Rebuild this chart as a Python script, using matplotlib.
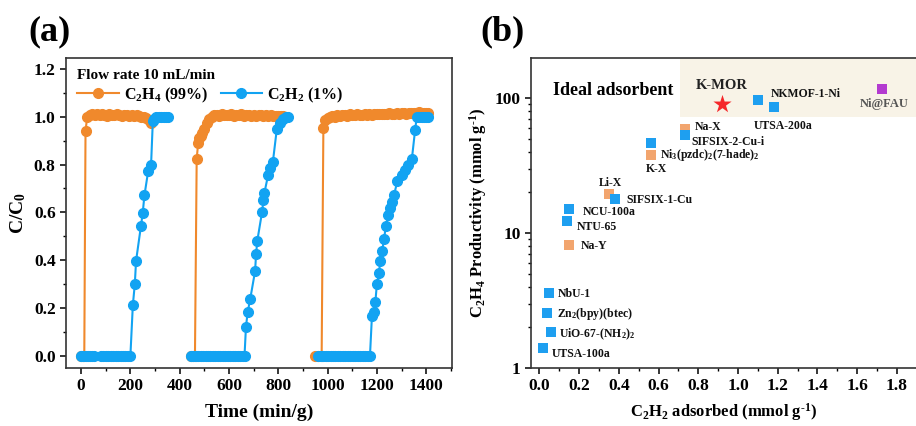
import numpy as np
import matplotlib
matplotlib.use('Agg')
import matplotlib.pyplot as plt
from matplotlib.ticker import MultipleLocator, FuncFormatter, LogLocator, NullFormatter

plt.rcParams['font.family'] = 'Liberation Serif'
plt.rcParams['font.weight'] = 'bold'
plt.rcParams['mathtext.fontset'] = 'custom'
plt.rcParams['mathtext.rm'] = 'Liberation Serif:bold'
plt.rcParams['mathtext.it'] = 'Liberation Serif:bold'
plt.rcParams['mathtext.bf'] = 'Liberation Serif:bold'
plt.rcParams['mathtext.default'] = 'rm'
plt.rcParams['axes.labelweight'] = 'bold'

# ---- panel (a): breakthrough cycles ----
c2h4_x1 = [0, 7, 13, 18, 25, 35, 45, 55, 65, 75, 85, 95, 105, 115, 125, 135, 145, 155, 165, 175,
           185, 195, 205, 215, 225, 235, 245, 255, 265, 275, 282]
c2h4_y1 = [0, 0, 0, 0.94, 1.0, 1.005, 1.01, 1.008, 1.012, 1.005, 1.01, 1.008, 1.004, 1.01, 1.006,
           1.008, 1.01, 1.005, 1.003, 1.008, 1.006, 1.004, 1.007, 1.003, 1.005, 1.002, 1.0, 1.0,
           0.995, 0.985, 0.975]
c2h4_x2 = [445, 454, 462, 469, 475, 480, 486, 491, 500, 510, 520, 530, 540, 550, 560, 570, 580, 590,
           600, 610, 620, 630, 640, 650, 660, 670, 680, 690, 700, 710, 720, 730, 740, 750, 760,
           770, 780, 790, 800, 810, 820, 830]
c2h4_y2 = [0, 0, 0, 0.823, 0.89, 0.91, 0.92, 0.93, 0.95, 0.975, 0.99, 1.0, 1.005, 1.008, 1.004,
           1.01, 1.006, 1.008, 1.005, 1.01, 1.003, 1.007, 1.005, 1.009, 1.004, 1.006, 1.008, 1.003,
           1.006, 1.004, 1.007, 1.005, 1.003, 1.006, 1.004, 1.005, 1.003, 1.004, 1.002, 1.003,
           1.002, 1.0]
c2h4_x3 = [949, 962, 976, 983, 990, 1000, 1010, 1020, 1030, 1040, 1050, 1060, 1070, 1080, 1090,
           1100, 1110, 1120, 1130, 1140, 1150, 1160, 1170, 1180, 1190, 1200, 1210, 1220, 1230,
           1240, 1250, 1260, 1270, 1280, 1290, 1300, 1310, 1320, 1330, 1340, 1350, 1360, 1370,
           1380, 1390, 1400, 1408]
c2h4_y3 = [0, 0, 0, 0.953, 0.985, 0.995, 1.0, 1.004, 1.0, 1.006, 1.003, 1.008, 1.005, 1.004, 1.009,
           1.006, 1.005, 1.01, 1.007, 1.006, 1.011, 1.008, 1.01, 1.007, 1.012, 1.009, 1.01, 1.013,
           1.01, 1.012, 1.014, 1.011, 1.013, 1.015, 1.012, 1.014, 1.016, 1.013, 1.015, 1.017,
           1.014, 1.016, 1.018, 1.015, 1.017, 1.016, 1.015]

c2h2_x1 = [0, 9, 18, 27, 36, 45, 54, 80, 90, 100, 110, 120, 130, 140, 150, 160, 170, 180, 190,
           200, 210, 218, 223, 243, 250, 257, 272, 284, 291, 297, 305, 315, 325, 335, 345, 353]
c2h2_y1 = [0, 0, 0, 0, 0, 0, 0, 0, 0, 0, 0, 0, 0, 0, 0, 0, 0, 0, 0,
           0, 0.213, 0.30, 0.397, 0.544, 0.597, 0.671, 0.771, 0.80, 0.98, 0.99, 1.0, 1.0, 1.0,
           1.0, 1.0, 1.0]
c2h2_x2 = [446, 455, 465, 475, 485, 495, 505, 515, 525, 535, 545, 555, 565, 575, 585, 595, 605,
           615, 625, 635, 645, 655, 663, 669, 676, 686, 706, 710, 715, 734, 740, 744, 759, 767,
           778, 794, 805, 818, 830, 838]
c2h2_y2 = [0, 0, 0, 0, 0, 0, 0, 0, 0, 0, 0, 0, 0, 0, 0, 0, 0,
           0, 0, 0, 0, 0, 0, 0.123, 0.184, 0.237, 0.355, 0.427, 0.482, 0.60, 0.652, 0.683, 0.757,
           0.785, 0.81, 0.947, 0.975, 0.99, 1.0, 1.0]
c2h2_x3 = [963, 972, 982, 992, 1002, 1012, 1022, 1032, 1042, 1052, 1062, 1072, 1082, 1092, 1102,
           1112, 1122, 1132, 1142, 1152, 1162, 1172, 1180, 1189, 1194, 1200, 1209, 1213, 1222,
           1229, 1237, 1247, 1254, 1262, 1270, 1283, 1301, 1314, 1328, 1342, 1355, 1362, 1372,
           1382, 1392, 1400, 1408]
c2h2_y3 = [0, 0, 0, 0, 0, 0, 0, 0, 0, 0, 0, 0, 0, 0, 0,
           0, 0, 0, 0, 0, 0, 0, 0.167, 0.185, 0.227, 0.30, 0.346, 0.396, 0.44,
           0.49, 0.544, 0.59, 0.618, 0.645, 0.674, 0.73, 0.757, 0.778, 0.80, 0.823, 0.943, 1.0,
           1.0, 1.0, 1.0, 1.0, 1.0]

# ---- panel (b): productivity vs uptake ----
names = ['K-MOR', 'NKMOF-1-Ni', 'UTSA-200a', 'Ni@FAU', 'Na-X', 'SIFSIX-2-Cu-i',
         'Ni$_3$(pzdc)$_2$(7-hade)$_2$', 'K-X', 'Li-X', 'SIFSIX-1-Cu', 'NCU-100a', 'NTU-65',
         'Na-Y', 'NbU-1', 'Zn$_2$(bpy)(btec)', 'UiO-67-(NH$_2$)$_2$', 'UTSA-100a']
c2h2_uptake = [0.918, 1.103, 1.18, 1.724, 0.732, 0.732, 0.561, 0.561, 0.351, 0.381, 0.150,
               0.139, 0.150, 0.050, 0.039, 0.059, 0.020]
c2h4_prod = [89.8, 96.6, 86.2, 116.6, 58.9, 53.2, 46.7, 37.8, 19.4, 17.8, 14.96, 12.3, 8.15,
             3.57, 2.57, 1.86, 1.40]
kinds = ['star', 'mof', 'mof', 'nifau', 'zeo', 'mof', 'mof', 'zeo', 'zeo', 'mof', 'mof', 'mof',
         'zeo', 'mof', 'mof', 'mof', 'mof']
label_x = [0.918, 1.165, 1.078, 1.735, 0.784, 0.767, 0.605, 0.536, 0.30, 0.437, 0.218, 0.188,
           0.21, 0.091, 0.091, 0.10, 0.062]
label_y = [124.8, 106.5, 62.0, 89.8, 61.3, 47.0, 38.0, 29.8, 23.6, 17.5, 14.3, 11.1, 8.02,
           3.53, 2.5, 1.78, 1.27]

orange = '#F0892C'
blue = '#12A3F2'

fig = plt.figure(figsize=(9.16, 4.26), dpi=100)
ax1 = fig.add_axes([0.0721, 0.1362, 0.4214, 0.7277])
ax2 = fig.add_axes([0.5797, 0.1362, 0.4214, 0.7277])

def joined(xs, ys):
    X, Y = [], []
    for x, y in zip(xs, ys):
        X += list(x) + [np.nan]
        Y += list(y) + [np.nan]
    return X, Y

ox, oy = joined([c2h4_x1, c2h4_x2, c2h4_x3], [c2h4_y1, c2h4_y2, c2h4_y3])
bx, by = joined([c2h2_x1, c2h2_x2, c2h2_x3], [c2h2_y1, c2h2_y2, c2h2_y3])
ax1.plot(ox, oy, '-o', color=orange, ms=7, lw=1.5, label='C$_2$H$_4$ (99%)')
ax1.plot(bx, by, '-o', color=blue, ms=7, lw=1.5, label='C$_2$H$_2$ (1%)')

ax1.set_xlim(-61, 1505)
ax1.set_ylim(-0.05, 1.245)
ax1.xaxis.set_major_locator(MultipleLocator(200))
ax1.xaxis.set_minor_locator(MultipleLocator(100))
ax1.yaxis.set_major_locator(MultipleLocator(0.2))
ax1.yaxis.set_minor_locator(MultipleLocator(0.1))
ax1.yaxis.set_major_formatter(FuncFormatter(lambda v, p: f'{v:.1f}'))
ax1.set_xlabel('Time (min/g)', fontsize=14, labelpad=7)
ax1.set_ylabel('C/C$_0$', fontsize=14, labelpad=4)
leg = ax1.legend(loc='upper left', ncol=2, frameon=False, fontsize=11.5,
                 title='Flow rate 10 mL/min', title_fontproperties={'weight': 'bold', 'size': 11},
                 alignment='left', handlelength=2.6, columnspacing=0.8, handletextpad=0.3,
                 borderaxespad=0.3, labelspacing=0.2)
fig.text(50 / 916, 1 - 32 / 426, '(a)', fontsize=26, fontweight='bold', ha='center', va='center')

# panel (b)
ax2.set_yscale('log')
ax2.set_xlim(-0.042, 1.901)
ax2.set_ylim(1, 198)
ax2.fill_between([0.708, 1.901], 72, 198, color='#F8F3E7', zorder=0, lw=0)
colors = {'mof': '#1E9FF0', 'zeo': '#F2A56E', 'nifau': '#B33AD0'}
for x, y, k in zip(c2h2_uptake, c2h4_prod, kinds):
    if k == 'star':
        ax2.scatter(x, y, marker='*', s=190, color='#F5272A', zorder=3, lw=0)
    else:
        ax2.scatter(x, y, marker='s', s=62, color=colors[k], zorder=3, lw=0)
for n, x, y in zip(names, label_x, label_y):
    if n == 'K-MOR':
        ax2.text(x, y, n, fontsize=10.5, ha='center', va='center', color='#222222')
    elif n == 'Ni@FAU':
        ax2.text(x, y, n, fontsize=9, ha='center', va='center', color='#555555')
    else:
        ax2.text(x, y, n, fontsize=8.5, ha='left', va='center', color='#111111')
ax2.text(0.069, 113, 'Ideal adsorbent', fontsize=13, ha='left', va='center')

ax2.xaxis.set_major_locator(MultipleLocator(0.2))
ax2.xaxis.set_minor_locator(MultipleLocator(0.1))
ax2.xaxis.set_major_formatter(FuncFormatter(lambda v, p: f'{v:.1f}'))
ax2.yaxis.set_major_locator(LogLocator(base=10))
ax2.yaxis.set_minor_locator(LogLocator(base=10, subs=np.arange(2, 10)))
ax2.yaxis.set_minor_formatter(NullFormatter())
ax2.yaxis.set_major_formatter(FuncFormatter(lambda v, p: f'{v:g}'))
ax2.set_xlabel('C$_2$H$_2$ adsorbed (mmol g$^{\\text{-1}}$)', fontsize=12, labelpad=5)
ax2.set_ylabel('C$_2$H$_4$ Productivity (mmol g$^{\\text{-1}}$)', fontsize=12, labelpad=4)
fig.text(502 / 916, 1 - 32 / 426, '(b)', fontsize=26, fontweight='bold', ha='center', va='center')

for ax in (ax1, ax2):
    for s in ax.spines.values():
        s.set_linewidth(1.2)
        s.set_color('#333333')
    ax.tick_params(which='major', direction='out', length=4, width=1.1, labelsize=12.5)
    ax.tick_params(which='minor', direction='out', length=2.5, width=1.0)

fig.canvas.draw()
for ax in (ax1, ax2):
    for lab in ax.get_xticklabels() + ax.get_yticklabels():
        lab.set_fontweight('bold')

fig.savefig('out.png', dpi=100)
